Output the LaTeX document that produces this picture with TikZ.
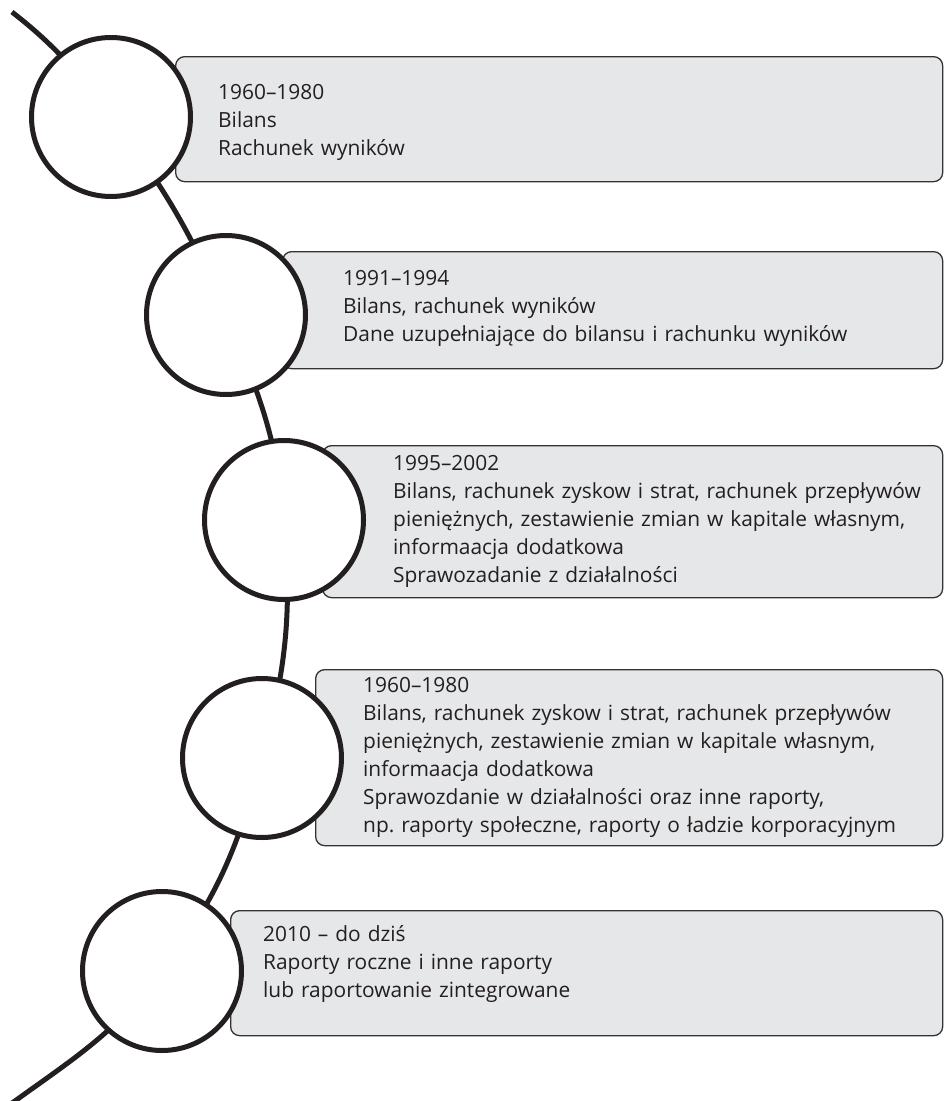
\documentclass[tikz,border=0pt]{standalone}
\usepackage{fontspec}
\setmainfont{Open Sans}
\definecolor{boxfill}{HTML}{E6E7E8}
\definecolor{boxline}{HTML}{333333}
\definecolor{ink}{HTML}{231F20}
\frenchspacing
\begin{document}
\begin{tikzpicture}[x=1pt,y=-1pt,
  panel/.style={draw=boxline, line width=1.3pt, fill=boxfill, rounded corners=9pt,
    anchor=north west, inner sep=0pt},
  stage/.style={circle, draw=ink, line width=5pt, fill=white, minimum size=159pt, inner sep=0pt},
  info/.style={anchor=base west, align=left, text width=580pt, inner sep=0pt, text=ink,
    font=\fontsize{20.9}{28}\selectfont},
  track/.style={draw=ink, line width=5pt}]
\useasboundingbox (0,0) rectangle (943,1101);

% text panels
\node[panel, minimum width=767pt, minimum height=125pt] (p1) at (175,56) {};
\node[panel, minimum width=660pt, minimum height=117pt] (p2) at (282,251) {};
\node[panel, minimum width=620pt, minimum height=152pt] (p3) at (322,445) {};
\node[panel, minimum width=627pt, minimum height=176pt] (p4) at (315,669) {};
\node[panel, minimum width=712pt, minimum height=125pt] (p5) at (230,910) {};

% milestone positions
\coordinate (s) at (12,12);
\coordinate (e) at (8,1106);
\coordinate (m1) at (111,117);
\coordinate (m2) at (226,315);
\coordinate (m3) at (284,520);
\coordinate (m4) at (262,758);
\coordinate (m5) at (162,971);

% the time line behind the milestones
\draw[track] (s) to[out=-38,in=127] (m1) to[out=-53,in=113] (m2)
  to[out=-67,in=95] (m3) to[out=-85,in=75] (m4)
  to[out=-105,in=53] (m5) to[out=-127,in=36] (e);

% milestones
\node[stage] (c1) at (m1) {};
\node[stage] (c2) at (m2) {};
\node[stage] (c3) at (m3) {};
\node[stage] (c4) at (m4) {};
\node[stage] (c5) at (m5) {};

% panel texts
\node[info] (t1) at (218,99) {1960–1980\\Bilans\\Rachunek wyników};
\node[info] (t2) at (343,285) {1991–1994\\Bilans, rachunek wyników\\Dane uzupełniające do bilansu i rachunku wyników};
\node[info] (t3) at (393,470) {1995–2002\\Bilans, rachunek zyskow i strat, rachunek przepływów\\pieniężnych, zestawienie zmian w kapitale własnym,\\informaacja dodatkowa\\Sprawozadanie z działalności};
\node[info] (t4) at (363,692) {1960–1980\\Bilans, rachunek zyskow i strat, rachunek przepływów\\pieniężnych, zestawienie zmian w kapitale własnym,\\informaacja dodatkowa\\Sprawozdanie w działalności oraz inne raporty,\\np. raporty społeczne, raporty o ładzie korporacyjnym};
\node[info] (t5) at (263,941) {2010 – do dziś\\Raporty roczne i inne raporty\\lub raportowanie zintegrowane};
\end{tikzpicture}
\end{document}
